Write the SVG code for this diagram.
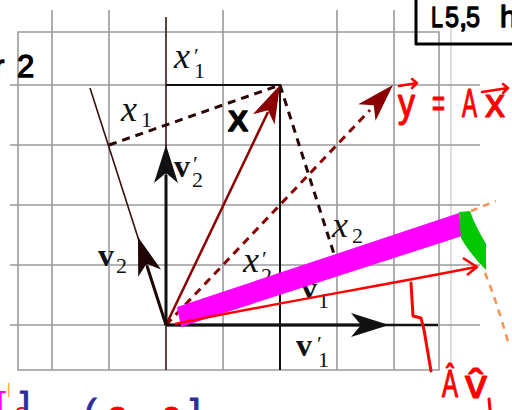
<svg xmlns="http://www.w3.org/2000/svg" xmlns:xlink="http://www.w3.org/1999/xlink" width="512" height="410" viewBox="0 0 512 410">
<style>
.grid{stroke:#9a9a9a;stroke-width:1.6;fill:none}
.faint{stroke:#d4d4d4;stroke-width:1.5;fill:none}
.mi{font-family:"Liberation Serif",serif;font-style:italic;font-size:36px;fill:#111}
.bv{font-family:"Liberation Serif",serif;font-weight:bold;font-size:32px;fill:#111}
.sb{font-family:"Liberation Serif",serif;font-size:22px;fill:#111}
.pr{font-family:"Liberation Serif","DejaVu Serif",serif;font-size:22px;fill:#111}
.hw{font-family:"Liberation Sans","DejaVu Sans",sans-serif;stroke-linejoin:round}
.hk{fill:#000;stroke:#000;stroke-width:1.3}
.hr{fill:#ff0000;stroke:#ff0000;stroke-width:1.2}
.dash{fill:none;stroke-width:3;stroke-dasharray:8 6}
</style>
<defs>
<path id="ah" d="M0,0 L-38,-12 L-28,0 L-38,12 Z"/>
</defs>

<g id="grid">
<path class="faint" d="M451,10 V370"/>
<path class="grid" d="M52,10 V370 M109,10 V370 M223,10 V370 M337,10 V370 M394,10 V370"/>
<path class="grid" d="M10,85 H480 M10,145 H480 M10,205 H480 M10,265 H480 M10,325 H480"/>
<path class="grid" d="M18,32 H439 V370 H18 Z"/>
</g>

<g id="axes">
<path d="M166,17 V370" stroke="#3a1414" stroke-width="1.6" fill="none"/>
<path d="M166,325 H438" stroke="#111" stroke-width="2.5" fill="none"/>
<path d="M166,85 H280 V370" stroke="#111" stroke-width="2" fill="none"/>
</g>

<g id="connectors">
<path class="dash" stroke="#2a0505" d="M109,145 L280,85"/>
<path class="dash" stroke="#2a0505" d="M280,85 L334,254"/>
<path class="dash" stroke="#8b0000" d="M166,325 L370,110"/>
<use xlink:href="#ah" fill="#8b0000" transform="translate(393,85) rotate(-46.5)"/>
<path d="M90,88 L166,325" stroke="#3a1010" stroke-width="1.6" fill="none"/>
<path d="M166,325 L147,266" stroke="#1f0505" stroke-width="3" fill="none"/>
<use xlink:href="#ah" fill="#1f0505" transform="translate(138,237) rotate(-107.8)"/>
<path d="M166,325 L268,112" stroke="#8b0000" stroke-width="2.5" fill="none"/>
<use xlink:href="#ah" fill="#8b0000" transform="translate(280,85) rotate(-64.6)"/>
<path d="M166,325 V175" stroke="#111" stroke-width="3" fill="none"/>
<use xlink:href="#ah" fill="#111" transform="translate(166,145) rotate(-90)"/>
<path d="M166,325 H365" stroke="#111" stroke-width="3" fill="none"/>
<use xlink:href="#ah" fill="#111" transform="translate(389,325)"/>
</g>

<g id="label-x1p"><text class="mi" x="174" y="68">x</text><text class="pr" x="194" y="63">′</text><text class="sb" x="194" y="78">1</text></g>
<g id="label-x1"><text class="mi" x="121" y="121">x</text><text class="sb" x="141" y="127">1</text></g>
<g id="label-x2"><text class="mi" x="332" y="237">x</text><text class="sb" x="352" y="243">2</text></g>
<g id="label-x2p"><text class="mi" x="243" y="272">x</text><text class="pr" x="262" y="266">′</text><text class="sb" x="261" y="283">2</text></g>
<g id="label-v1"><text class="bv" x="301" y="299">v</text><text class="sb" x="318" y="308">1</text></g>
<g id="label-v1p"><text class="bv" x="296" y="356">v</text><text class="pr" x="317" y="351">′</text><text class="sb" x="318" y="367">1</text></g>
<g id="label-v2p"><text class="bv" x="174" y="177">v</text><text class="pr" x="193" y="171">′</text><text class="sb" x="192" y="187">2</text></g>
<g id="label-v2"><text class="bv" x="98" y="266">v</text><text class="sb" x="116" y="273">2</text></g>

<g id="annot-x"><text class="hw hk" x="228" y="131" font-size="30" font-weight="bold">X</text></g>

<g id="highlight">
<path d="M177,307 L459,213 L462,236 L181,327 Z" fill="#ff00ff"/>
<path d="M175,324 C260,306 380,286 476,267" stroke="#ff0000" stroke-width="2.5" fill="none"/>
<path d="M463,258 L477,267 L467,275" stroke="#ff0000" stroke-width="2.5" fill="none" stroke-linejoin="round"/>
<path d="M459,212 L470,211 C474,223 480,233 486,244 L486,270 C478,262 468,250 461,238 Z" fill="#00c800"/>
<path d="M471,211 Q483,206 496,201" stroke="#ff9050" stroke-width="2.5" stroke-dasharray="7 6" fill="none"/>
<path d="M485,273 Q497,302 508,342" stroke="#ff9050" stroke-width="2.5" stroke-dasharray="7 6" fill="none"/>
<path d="M411,283 L413,316 L421,318 L424,330 L431,371" stroke="#ff0000" stroke-width="3" fill="none" stroke-linecap="round" stroke-linejoin="round"/>
<path d="M489,399 L490,410" stroke="#ff0000" stroke-width="3" fill="none" stroke-linecap="round"/>
</g>

<g id="handwriting" class="hw">
<text class="hk" x="-6" y="77" font-size="31">r</text>
<text class="hk" x="17" y="77" font-size="31">2</text>
<text class="hk" x="431" y="27" font-size="30" textLength="12" lengthAdjust="spacingAndGlyphs">L</text>
<text class="hk" x="445" y="27" font-size="30" textLength="14" lengthAdjust="spacingAndGlyphs">5</text>
<text class="hk" x="459" y="27" font-size="30">,</text>
<text class="hk" x="466" y="27" font-size="30" textLength="14" lengthAdjust="spacingAndGlyphs">5</text>
<text class="hk" x="500" y="27" font-size="30">h</text>
<path d="M416,0 V44 H512" stroke="#000" stroke-width="3" fill="none"/>
<text class="hr" x="398" y="117" font-size="40" textLength="17" lengthAdjust="spacingAndGlyphs">y</text>
<text class="hr" x="432" y="117" font-size="40" textLength="13" lengthAdjust="spacingAndGlyphs">=</text>
<text class="hr" x="462" y="117" font-size="40" textLength="15" lengthAdjust="spacingAndGlyphs">A</text>
<text class="hr" x="485" y="117" font-size="40" textLength="20" lengthAdjust="spacingAndGlyphs">x</text>
<path d="M399,86 L417,83 M412,79 L417,83 L412,88 M482,92 L508,88 M503,84 L508,88 L503,93" stroke="#ff0000" stroke-width="2.5" fill="none" stroke-linecap="round" stroke-linejoin="round"/>
<text class="hr" x="442" y="397" font-size="38" textLength="16" lengthAdjust="spacingAndGlyphs">Â</text>
<text class="hr" x="465" y="398" font-size="40" textLength="22" lengthAdjust="spacingAndGlyphs">v̂</text>
<text x="-4" y="418" font-size="36" fill="#ff00ff">[</text>
<text x="7" y="394" font-size="14" fill="#ffa020">|</text>
<text x="15" y="424" font-size="24" fill="#ff0000">3</text>
<text x="20" y="418" font-size="36" fill="#2e2e9e" stroke="#2e2e9e" stroke-width="1">]</text>
<text x="84" y="426" font-size="38" fill="#2e2e9e" stroke="#2e2e9e" stroke-width="1">(</text>
<text class="hr" x="108" y="430" font-size="34">2</text>
<text class="hr" x="162" y="430" font-size="34">0</text>
<text x="190" y="426" font-size="38" fill="#2e2e9e" stroke="#2e2e9e" stroke-width="1">]</text>
</g>
</svg>
